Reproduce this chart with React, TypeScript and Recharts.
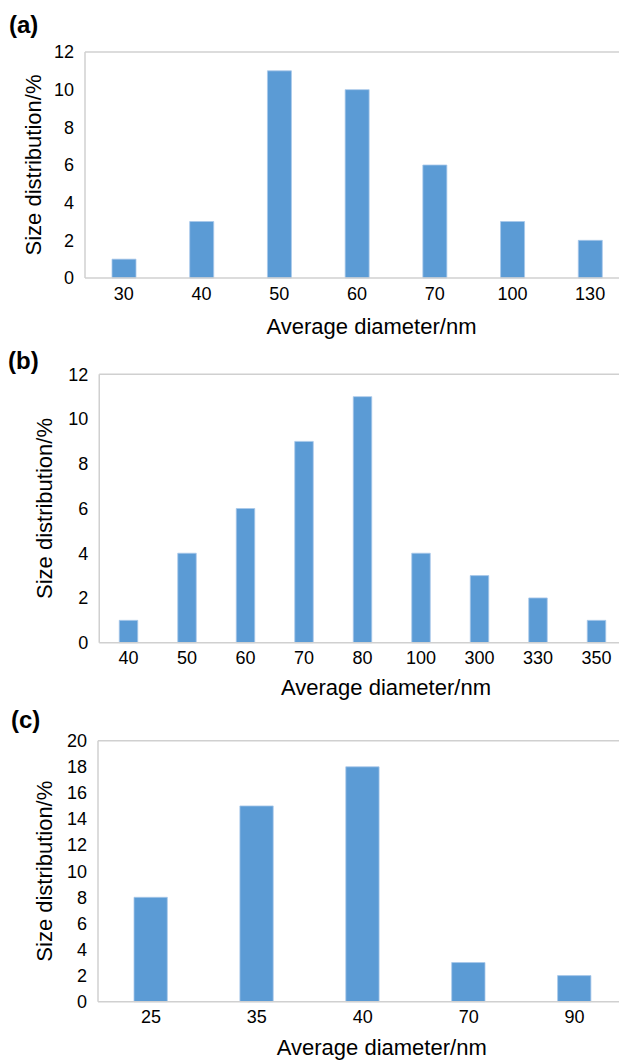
import React from "react";
import { Bar, BarChart, Label, ReferenceLine, XAxis, YAxis } from "recharts";

// (a)
const diamA = ["30", "40", "50", "60", "70", "100", "130"];
const distA = [1, 3, 11, 10, 6, 3, 2];
// (b)
const diamB = ["40", "50", "60", "70", "80", "100", "300", "330", "350"];
const distB = [1, 4, 6, 9, 11, 4, 3, 2, 1];
// (c)
const diamC = ["25", "35", "40", "70", "90"];
const distC = [8, 15, 18, 3, 2];

const ticks12 = [0, 2, 4, 6, 8, 10, 12];
const ticks20 = [0, 2, 4, 6, 8, 10, 12, 14, 16, 18, 20];

const FONT = "'Liberation Sans', Arial, Helvetica, sans-serif";
const AXIS = "#d0d0d0";
const BLUE = "#5b9bd5";

type PanelProps = {
  letter: string;
  letterTop: number;
  letterLeft: number;
  top: number;
  height: number;
  margin: { top: number; right: number; left: number; bottom: number };
  yWidth: number;
  xHeight: number;
  cats: string[];
  vals: number[];
  yMax: number;
  yTicks: number[];
  barSize: number;
  titleOffset: number;
  titleDx: number;
  yTitleX: number;
};

function Panel(p: PanelProps) {
  const data = p.cats.map((d, i) => ({ d, v: p.vals[i] }));
  return (
    <>
      <div
        style={{
          position: "absolute",
          left: p.letterLeft,
          top: p.letterTop,
          fontSize: 24,
          lineHeight: 1,
          fontWeight: "bold",
          fontFamily: FONT,
          color: "#000",
        }}
      >
        {p.letter}
      </div>
      <div style={{ position: "absolute", left: 0, top: p.top }}>
        <BarChart width={640} height={p.height} data={data} margin={p.margin}>
          <XAxis
            dataKey="d"
            type="category"
            height={p.xHeight}
            tickLine={false}
            tickSize={0}
            tickMargin={9}
            axisLine={{ stroke: AXIS, strokeWidth: 1.5 }}
            tick={{ fill: "#000", fontSize: 18, fontFamily: FONT }}
            interval={0}
          >
            <Label
              value="Average diameter/nm"
              position="insideBottom"
              offset={p.titleOffset}
              dx={p.titleDx}
              fill="#000"
              fontSize={22}
              fontFamily={FONT}
            />
          </XAxis>
          <YAxis
            type="number"
            domain={[0, p.yMax]}
            ticks={p.yTicks}
            interval={0}
            width={p.yWidth}
            tickLine={false}
            tickSize={0}
            tickMargin={11}
            axisLine={{ stroke: AXIS, strokeWidth: 1.5 }}
            tick={{ fill: "#000", fontSize: 18, fontFamily: FONT }}
          >
            <Label
              value="Size distribution/%"
              position="insideLeft"
              angle={-90}
              offset={p.yTitleX}
              fill="#000"
              fontSize={22}
              fontFamily={FONT}
              style={{ textAnchor: "middle" }}
            />
          </YAxis>
          <ReferenceLine y={p.yMax} stroke={AXIS} strokeWidth={1.5} />
          <Bar dataKey="v" fill={BLUE} stroke="#a8c8ea" strokeWidth={0.8} barSize={p.barSize} isAnimationActive={false} />
        </BarChart>
      </div>
    </>
  );
}

export default function App() {
  return (
    <div
      style={{
        position: "absolute",
        left: 0,
        top: 0,
        width: 619,
        height: 1060,
        overflow: "hidden",
        background: "#fff",
        fontFamily: FONT,
      }}
    >
      <Panel
        letter="(a)"
        letterTop={13}
        letterLeft={9}
        top={0}
        height={340}
        margin={{ top: 52, right: 11, left: 0, bottom: 0 }}
        yWidth={85}
        xHeight={62}
        cats={diamA}
        vals={distA}
        yMax={12}
        yTicks={ticks12}
        barSize={24}
        titleOffset={6.5}
        titleDx={14.5}
        yTitleX={33}
      />
      <Panel
        letter="(b)"
        letterTop={349}
        letterLeft={8}
        top={340}
        height={370}
        margin={{ top: 34.3, right: 14.25, left: 0, bottom: 0 }}
        yWidth={99.25}
        xHeight={67.3}
        cats={diamB}
        vals={distB}
        yMax={12}
        yTicks={ticks12}
        barSize={18.5}
        titleOffset={15}
        titleDx={23.5}
        yTitleX={44}
      />
      <Panel
        letter="(c)"
        letterTop={708}
        letterLeft={11}
        top={710}
        height={350}
        margin={{ top: 30.7, right: 12.5, left: 0, bottom: 0 }}
        yWidth={98}
        xHeight={58.3}
        cats={diamC}
        vals={distC}
        yMax={20}
        yTicks={ticks20}
        barSize={33.3}
        titleOffset={5}
        titleDx={19}
        yTitleX={44}
      />
    </div>
  );
}
